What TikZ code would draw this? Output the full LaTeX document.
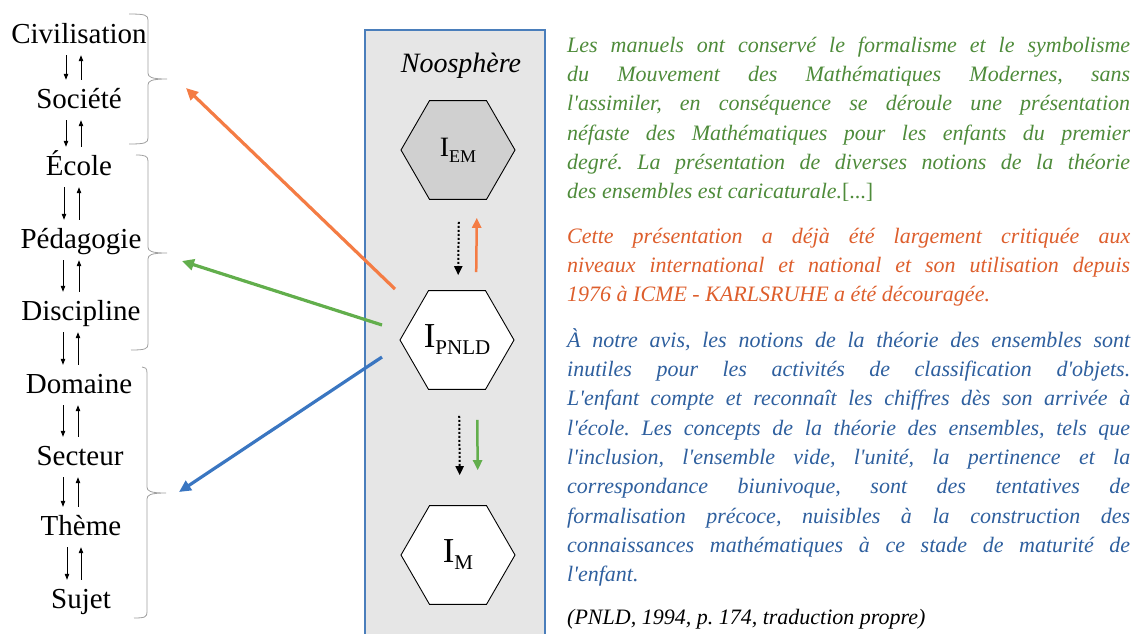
\documentclass[tikz,border=0pt]{standalone}
\usepackage{fontspec}
\setmainfont{Liberation Serif}[Ligatures=TeXOff]
\usetikzlibrary{arrows.meta,shapes.geometric}
\definecolor{orangeline}{HTML}{F47C44}
\definecolor{greenline}{HTML}{62AE4C}
\definecolor{blueline}{HTML}{3A76C1}
\definecolor{greentext}{HTML}{4E8B3A}
\definecolor{orangetext}{HTML}{DD5E2C}
\definecolor{bluetext}{HTML}{2E5F9E}
\definecolor{boxline}{HTML}{4A7EBB}
\definecolor{boxfill}{HTML}{E6E6E6}
\definecolor{hexfill}{HTML}{D0D0D0}
\definecolor{bracegray}{HTML}{A0A0A0}
\tikzset{
  stage/.style={inner sep=0pt, text height=19pt, text depth=6pt, font=\fontsize{29}{32}\selectfont},
  godown/.style={-{Triangle[length=6pt,width=4.5pt]}, line width=0.8pt, shorten <=6pt, shorten >=9pt},
  goup/.style={{Triangle[length=6pt,width=4.5pt]}-, line width=0.8pt, shorten <=6pt, shorten >=9pt},
  hexa/.style={regular polygon, regular polygon sides=6, minimum size=114pt, inner sep=0pt,
    draw, line width=0.9pt, fill=white, font=\fontsize{35}{36}\selectfont},
  bracket/.style={draw=bracegray, line width=0.8pt},
  citation/.style={anchor=north west, inner sep=0pt, text width=563pt, align=justify,
    font=\fontsize{22}{29.3}\selectfont\itshape\frenchspacing},
  longarrow/.style={line width=3.2pt, -{Triangle[length=12pt,width=11pt]}},
  shortarrow/.style={line width=2.5pt, -{Triangle[length=10pt,width=9pt]}},
  dotarrow/.style={line width=2pt, dotted, -{Triangle[length=9pt,width=8pt]}}
}
\begin{document}
\begin{tikzpicture}[x=1pt,y=-1pt]
\useasboundingbox (0,0) rectangle (1132,633);
% levels of codetermination
\node[stage, anchor=base] (civ) at (79,43) {Civilisation};
\node[stage, anchor=base] (soc) at (79,108) {Société};
\node[stage, anchor=base] (eco) at (79,175) {École};
\node[stage, anchor=base] (ped) at (81,248) {Pédagogie};
\node[stage, anchor=base] (dis) at (81,320) {Discipline};
\node[stage, anchor=base] (dom) at (79,393) {Domaine};
\node[stage, anchor=base] (sec) at (80,465) {Secteur};
\node[stage, anchor=base] (the) at (81,535) {Thème};
\node[stage, anchor=base] (suj) at (81,608) {Sujet};
\draw[godown] ([xshift=-13pt]civ.south) -- ([xshift=-13pt]soc.north);
\draw[goup] ([xshift=2pt]civ.south) -- ([xshift=2pt]soc.north);
\draw[godown] ([xshift=-13pt]soc.south) -- ([xshift=-13pt]eco.north);
\draw[goup] ([xshift=2pt]soc.south) -- ([xshift=2pt]eco.north);
\draw[godown] ([xshift=-15pt]eco.south) -- ([xshift=-17pt]ped.north);
\draw[goup] ([xshift=0pt]eco.south) -- ([xshift=-2pt]ped.north);
\draw[godown] ([xshift=-18pt]ped.south) -- ([xshift=-18pt]dis.north);
\draw[goup] ([xshift=-2pt]ped.south) -- ([xshift=-2pt]dis.north);
\draw[godown] ([xshift=-18pt]dis.south) -- ([xshift=-16pt]dom.north);
\draw[goup] ([xshift=-3pt]dis.south) -- ([xshift=-1pt]dom.north);
\draw[godown] ([xshift=-16pt]dom.south) -- ([xshift=-17pt]sec.north);
\draw[goup] ([xshift=-1pt]dom.south) -- ([xshift=-2pt]sec.north);
\draw[godown] ([xshift=-17pt]sec.south) -- ([xshift=-18pt]the.north);
\draw[goup] ([xshift=-2pt]sec.south) -- ([xshift=-3pt]the.north);
\draw[godown] ([xshift=-14pt]the.south) -- ([xshift=-14pt]suj.north);
\draw[goup] ([xshift=0pt]the.south) -- ([xshift=0pt]suj.north);
% braces
\draw[bracket] (129,14) .. controls (145,14) and (148,15) .. (148,20) -- (148,73) .. controls (148,77) and (151,79) .. (167,79)
  .. controls (151,79) and (148,81) .. (148,85) -- (148,138) .. controls (148,143) and (145,144) .. (129,144);
\draw[bracket] (136,155) .. controls (145,155) and (148,156) .. (148,161) -- (148,247) .. controls (148,251) and (151,253) .. (167,253)
  .. controls (151,253) and (148,255) .. (148,259) -- (148,344) .. controls (148,349) and (145,350) .. (131,350);
\draw[bracket] (142,367) .. controls (145,367) and (147,368) .. (147,373) -- (147,487) .. controls (147,491) and (150,493) .. (166,493)
  .. controls (150,493) and (147,495) .. (147,499) -- (147,612) .. controls (147,617) and (145,618) .. (134,618);
\coordinate (tipciv) at (186,88);
\coordinate (tipeco) at (182,261);
\coordinate (tipdom) at (179,492);
% noosphere
\draw[draw=boxline, fill=boxfill, line width=1.2pt] (365,30) rectangle (545,640);
\node[font=\fontsize{28}{30}\selectfont\itshape] (noos) at (461,66) {Noosphère};
\node[hexa, fill=hexfill, font=\fontsize{28}{30}\selectfont] (iem) at (458,150) {I\raisebox{-6pt}{\fontsize{18}{18}\selectfont EM}};
\node[hexa] (ipnld) at (457,340) {I\raisebox{-7pt}{\fontsize{21}{21}\selectfont PNLD}};
\node[hexa] (im) at (458,555) {I\raisebox{-7pt}{\fontsize{21}{21}\selectfont M}};
\draw[dotarrow, shorten <=22pt, shorten >=15pt] ([xshift=1pt]iem.south) -- ([xshift=1pt]ipnld.north);
\draw[shortarrow, orangeline, shorten <=18pt, shorten >=18pt] ([xshift=19pt]ipnld.north) -- ([xshift=19pt]iem.south);
\draw[dotarrow, shorten <=26pt, shorten >=30pt] ([xshift=2pt]ipnld.south) -- ([xshift=2pt]im.north);
\draw[shortarrow, greenline, shorten <=30pt, shorten >=35pt] ([xshift=20pt]ipnld.south) -- ([xshift=20pt]im.north);
\draw[longarrow, orangeline] ([shift={(-62,-51)}]ipnld.center) -- (tipciv);
\draw[longarrow, greenline] ([shift={(-75,-15)}]ipnld.center) -- (tipeco);
\draw[longarrow, blueline] ([shift={(-75,17)}]ipnld.center) -- (tipdom);
% quotations
\node[citation, text=greentext] (q1) at (567,31.5) {\strut Les manuels ont conservé le formalisme et le symbolisme\linebreak
du Mouvement des Mathématiques Modernes, sans\linebreak
l'assimiler, en conséquence se déroule une présentation\linebreak
néfaste des Mathématiques pour les enfants du premier\linebreak
degré. La présentation de diverses notions de la théorie\linebreak
des ensembles est caricaturale.{\upshape[...]}};
\node[citation, text=orangetext] (q2) at (567,222.5) {\strut Cette présentation a déjà été largement critiquée aux\linebreak
niveaux international et national et son utilisation depuis\linebreak
1976 à ICME - KARLSRUHE a été découragée.};
\node[citation, text=bluetext] (q3) at (567,326.5) {\strut À notre avis, les notions de la théorie des ensembles sont\linebreak
inutiles pour les activités de classification d'objets.\linebreak
L'enfant compte et reconnaît les chiffres dès son arrivée à\linebreak
l'école. Les concepts de la théorie des ensembles, tels que\linebreak
l'inclusion, l'ensemble vide, l'unité, la pertinence et la\linebreak
correspondance biunivoque, sont des tentatives de\linebreak
formalisation précoce, nuisibles à la construction des\linebreak
connaissances mathématiques à ce stade de maturité de\linebreak
l'enfant.};
\node[citation] (src) at (567,604) {\strut (PNLD, 1994, p. 174, traduction propre)};
\end{tikzpicture}
\end{document}
